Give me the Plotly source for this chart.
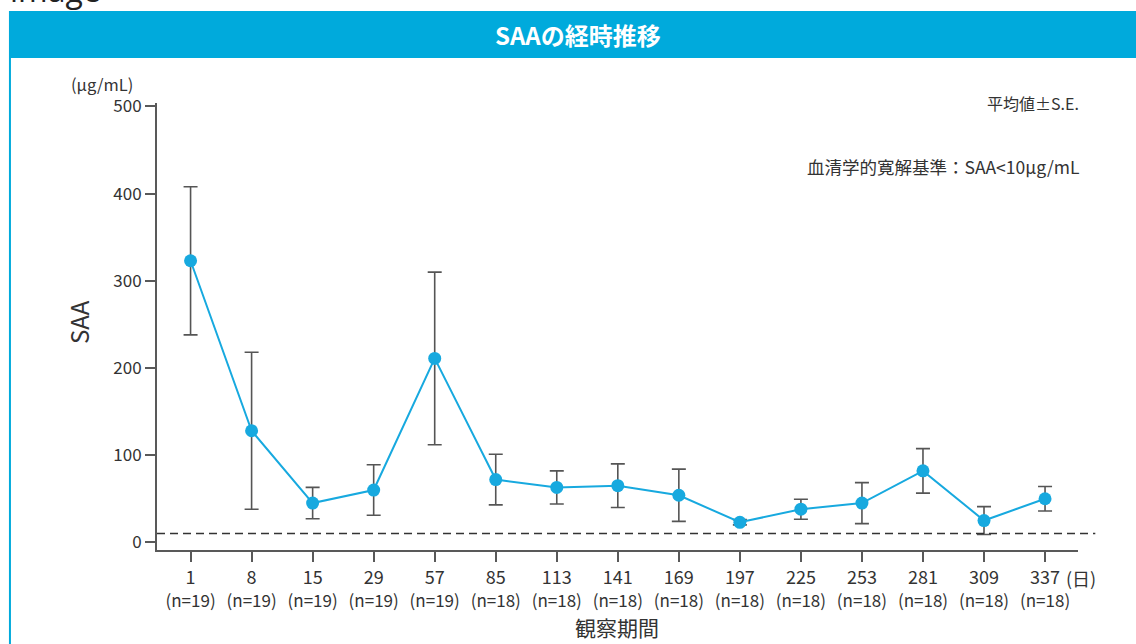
import plotly.graph_objects as go

# ---- data ----
days = ["1", "8", "15", "29", "57", "85", "113", "141", "169", "197", "225", "253", "281", "309", "337"]
n_counts = [19, 19, 19, 19, 19, 18, 18, 18, 18, 18, 18, 18, 18, 18, 18]
saa_mean = [323, 128, 45, 60, 211, 72, 63, 65, 54, 23, 38, 45, 82, 25, 50]
saa_se = [85, 90, 18, 29, 99, 29, 19, 25, 30, 3, 11.5, 23.5, 25.5, 16, 14]
remission_threshold = 10
y_ticks = [0, 100, 200, 300, 400, 500]

# ---- layout geometry (pixels) ----
W_PX, H_PX = 1136, 644
L, R, T, B = 157, 1077.7, 103, 550
PW, PH = R - L, B - T


def px(p):
    return (p - L) / PW


def py(p):
    return (B - p) / PH


FONT = "Noto Sans CJK JP, Noto Sans, sans-serif"
BLUE = "#00AADC"
LINE_BLUE = "#17A9DF"
AXIS = "#595959"
TXT = "#333333"

ticktext = [f"{d}<br><span style='font-size:17px'>(n={n})</span>" for d, n in zip(days, n_counts)]

fig = go.Figure()
fig.add_trace(go.Scatter(
    x=days, y=saa_mean,
    mode="lines+markers",
    line=dict(color=LINE_BLUE, width=2),
    marker=dict(color=LINE_BLUE, size=13),
    error_y=dict(type="data", array=saa_se, visible=True, color="#555555", thickness=1.6, width=7),
    showlegend=False,
    cliponaxis=False,
))

fig.update_layout(
    width=W_PX, height=H_PX,
    margin=dict(l=L, r=W_PX - R, t=T, b=H_PX - B, pad=0),
    paper_bgcolor="white", plot_bgcolor="white",
    font=dict(family=FONT, color=TXT, size=17),
    xaxis=dict(
        type="category", range=[-0.55, 14.54],
        tickvals=days, ticktext=ticktext,
        showline=True, linecolor=AXIS, linewidth=2,
        ticks="outside", ticklen=10, tickwidth=2, tickcolor=AXIS,
        showgrid=False, zeroline=False,
        tickfont=dict(size=18, color=TXT),
    ),
    yaxis=dict(
        range=[-8.8, 504], tickvals=y_ticks,
        showline=True, linecolor=AXIS, linewidth=2,
        ticks="outside", ticklen=10, tickwidth=2, tickcolor=AXIS,
        showgrid=False, zeroline=False,
        tickfont=dict(size=17, color=TXT),
    ),
    shapes=[
        # title bar
        dict(type="rect", xref="paper", yref="paper", x0=px(9), x1=px(1140), y0=py(58), y1=py(11),
             fillcolor=BLUE, line=dict(width=0), layer="below"),
        # left frame
        dict(type="line", xref="paper", yref="paper", x0=px(10), x1=px(10), y0=py(58), y1=py(650),
             line=dict(color=BLUE, width=2)),
        # remission threshold
        dict(type="line", xref="paper", yref="y", x0=0, x1=px(1095),
             y0=remission_threshold, y1=remission_threshold,
             line=dict(color="#333333", width=1.5, dash="8px,5px")),
    ],
    annotations=[
        dict(text="image", xref="paper", yref="paper", x=px(8), y=py(13), xanchor="left", yanchor="bottom",
             showarrow=False, font=dict(size=32, color="#222222", family="Open Sans, sans-serif")),
        dict(text="<b>SAAの経時推移</b>", xref="paper", yref="paper", x=px(578), y=py(35),
             xanchor="center", yanchor="middle", showarrow=False,
             font=dict(size=24, color="white")),
        dict(text="(μg/mL)", xref="paper", yref="paper", x=px(135), y=py(84),
             xanchor="right", yanchor="middle", showarrow=False, font=dict(size=16.5, color=TXT)),
        dict(text="平均値±S.E.", xref="paper", yref="paper", x=px(1081), y=py(103),
             xanchor="right", yanchor="middle", showarrow=False, font=dict(size=16, color=TXT)),
        dict(text="血清学的寛解基準：SAA<10μg/mL", xref="paper", yref="paper", x=px(1082), y=py(166),
             xanchor="right", yanchor="middle", showarrow=False, font=dict(size=17.5, color=TXT)),
        dict(text="SAA", xref="paper", yref="paper", x=px(78), y=py(322), textangle=-90,
             xanchor="center", yanchor="middle", showarrow=False, font=dict(size=24, color=TXT)),
        dict(text="観察期間", xref="paper", yref="paper", x=px(617), y=py(627),
             xanchor="center", yanchor="middle", showarrow=False, font=dict(size=21, color=TXT)),
        dict(text="(日)", xref="paper", yref="paper", x=px(1064), y=py(578),
             xanchor="left", yanchor="middle", showarrow=False, font=dict(size=18, color=TXT)),
    ],
)

fig.write_html("out.html", config={"displayModeBar": False},
               post_script="document.body.style.margin='0';")
